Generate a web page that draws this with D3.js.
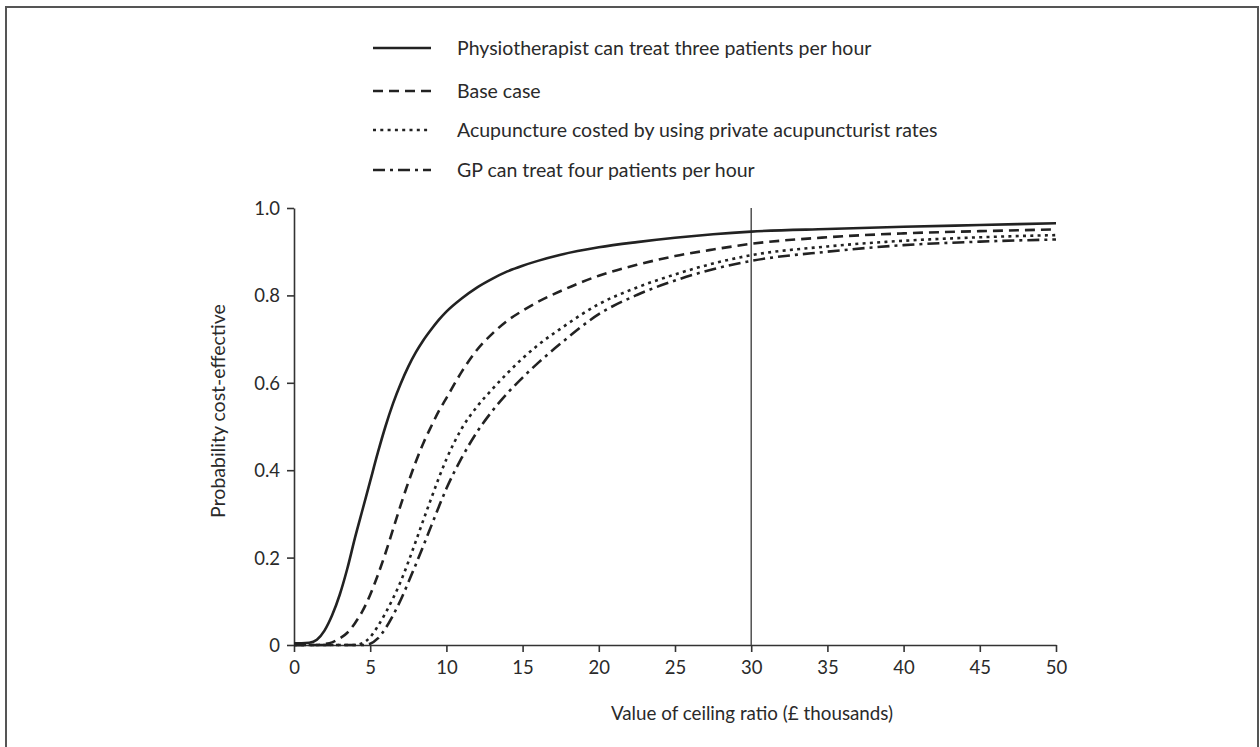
<!DOCTYPE html>
<html>
<head>
<meta charset="utf-8">
<script src="https://cdn.jsdelivr.net/npm/d3@7"></script>
<style>
  html, body { margin: 0; padding: 0; background: #fff; }
  svg { display: block; }
  text { font-family: Lato, "Open Sans", sans-serif; fill: #2a2a2a; }
</style>
</head>
<body>
<svg id="chart" width="1260" height="747"></svg>
<script>
// ---- data ----
const ceilingK = [0, 0.5, 1, 1.5, 2, 2.5, 3, 3.5, 4, 4.5, 5, 5.5, 6, 6.5, 7, 7.5, 8, 8.5, 9, 9.5, 10, 11, 12, 13, 14, 15, 16, 17.5, 20, 22.5, 25, 27.5, 30, 35, 40, 45, 50];
const physio    = [0.004, 0.004, 0.005, 0.012, 0.033, 0.068, 0.115, 0.175, 0.245, 0.31, 0.375, 0.44, 0.50, 0.553, 0.598, 0.637, 0.67, 0.698, 0.722, 0.744, 0.763, 0.793, 0.818, 0.838, 0.855, 0.868, 0.879, 0.893, 0.910, 0.922, 0.932, 0.940, 0.946, 0.952, 0.957, 0.961, 0.965];
const baseCase  = [0, 0, 0, 0, 0.002, 0.006, 0.015, 0.028, 0.05, 0.078, 0.115, 0.16, 0.21, 0.265, 0.32, 0.372, 0.42, 0.463, 0.50, 0.535, 0.565, 0.625, 0.675, 0.712, 0.742, 0.765, 0.785, 0.81, 0.845, 0.87, 0.89, 0.905, 0.918, 0.933, 0.942, 0.947, 0.951];
const acupPriv  = [0, 0, 0, 0, 0, 0, 0, 0, 0, 0.004, 0.018, 0.043, 0.073, 0.107, 0.145, 0.19, 0.238, 0.287, 0.335, 0.382, 0.425, 0.495, 0.545, 0.585, 0.622, 0.656, 0.686, 0.724, 0.78, 0.818, 0.848, 0.873, 0.892, 0.912, 0.925, 0.933, 0.938];
const gpFour    = [0, 0, 0, 0, 0, 0, 0, 0, 0, 0, 0.003, 0.015, 0.038, 0.068, 0.103, 0.143, 0.185, 0.228, 0.272, 0.316, 0.358, 0.428, 0.487, 0.535, 0.576, 0.612, 0.645, 0.69, 0.757, 0.801, 0.834, 0.86, 0.879, 0.90, 0.915, 0.923, 0.928];

const seriesNames = [
  "Physiotherapist can treat three patients per hour",
  "Base case",
  "Acupuncture costed by using private acupuncturist rates",
  "GP can treat four patients per hour"
];
const seriesValues = [physio, baseCase, acupPriv, gpFour];
const xTicks = [0, 5, 10, 15, 20, 25, 30, 35, 40, 45, 50];
const yTicks = [0, 0.2, 0.4, 0.6, 0.8, 1.0];
const yTickLabels = ["0", "0.2", "0.4", "0.6", "0.8", "1.0"];
const thresholdK = 30;
const xTitle = "Value of ceiling ratio (£ thousands)";
const yTitle = "Probability cost-effective";

// ---- styles ----
const dashes = [null, "10,6", "3,4.3", "12,5,3,5"];
const ink = "#222";

const svg = d3.select("#chart");

// frame
svg.append("rect")
  .attr("x", 6).attr("y", 7).attr("width", 1252).attr("height", 760)
  .attr("fill", "none").attr("stroke", "#555").attr("stroke-width", 2);

const x = d3.scaleLinear().domain([0, 50]).range([294, 1056]);
const y = d3.scaleLinear().domain([0, 1]).range([645, 208]);

// axes
const xAxis = svg.append("g").attr("transform", `translate(0,${y(0)})`)
  .call(d3.axisBottom(x).tickValues(xTicks).tickFormat(d3.format("d")).tickSize(7).tickSizeOuter(0).tickPadding(9));
const yAxis = svg.append("g").attr("transform", `translate(${x(0)},0)`)
  .call(d3.axisLeft(y).tickValues(yTicks).tickFormat((d, i) => yTickLabels[i]).tickSize(7).tickSizeOuter(0).tickPadding(7));

[xAxis, yAxis].forEach(g => {
  g.select(".domain").attr("stroke", "#333").attr("stroke-width", 1.6);
  g.selectAll(".tick line").attr("stroke", "#333").attr("stroke-width", 1.6);
  g.selectAll(".tick text").attr("fill", "#2a2a2a").style("font-family", "Lato, sans-serif").style("font-size", "18.5px");
});
yAxis.selectAll(".tick text").attr("dy", "0.35em");

// threshold line
svg.append("line")
  .attr("x1", x(thresholdK)).attr("x2", x(thresholdK))
  .attr("y1", y(1.0)).attr("y2", y(0))
  .attr("stroke", "#444").attr("stroke-width", 1.4);

// curves
const line = d3.line()
  .x((d, i) => x(ceilingK[i]))
  .y(d => y(d))
  .curve(d3.curveMonotoneX);

seriesValues.forEach((vals, k) => {
  svg.append("path")
    .datum(vals)
    .attr("d", line)
    .attr("fill", "none")
    .attr("stroke", ink)
    .attr("stroke-width", 2.6)
    .attr("stroke-dasharray", dashes[k]);
});

// legend
const legendY = [48, 91, 130, 170];
seriesNames.forEach((name, k) => {
  svg.append("line")
    .attr("x1", 373).attr("x2", 431)
    .attr("y1", legendY[k]).attr("y2", legendY[k])
    .attr("stroke", ink).attr("stroke-width", 2.6)
    .attr("stroke-dasharray", dashes[k]);
  svg.append("text")
    .attr("x", 457).attr("y", legendY[k]).attr("dy", "0.35em")
    .style("font-size", "19.5px")
    .text(name);
});

// axis titles
svg.append("text")
  .attr("x", 752).attr("y", 720)
  .attr("text-anchor", "middle")
  .style("font-size", "18.8px")
  .text(xTitle);

svg.append("text")
  .attr("transform", `translate(225,411) rotate(-90)`)
  .attr("text-anchor", "middle")
  .style("font-size", "19.5px")
  .text(yTitle);
</script>
</body>
</html>
